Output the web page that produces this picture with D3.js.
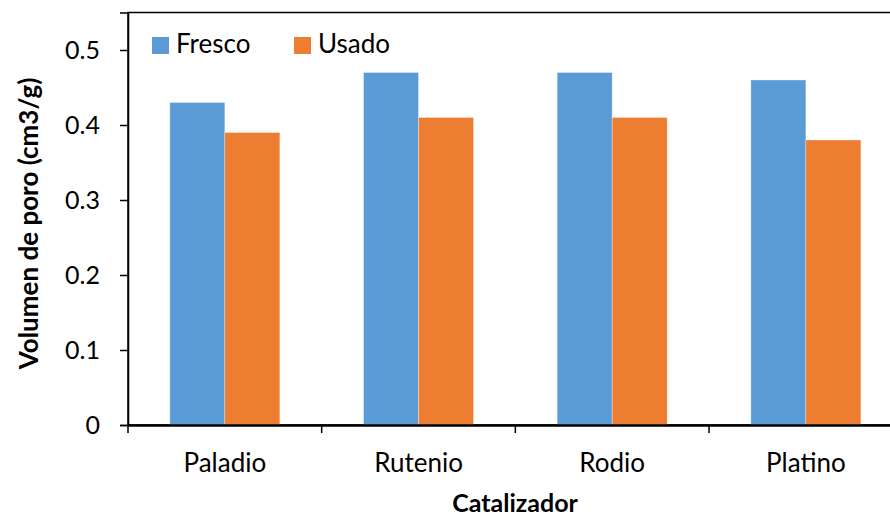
<!DOCTYPE html>
<html>
<head>
<meta charset="utf-8">
<script src="https://cdn.jsdelivr.net/npm/d3@7"></script>
<style>
  body { margin: 0; background: #fff; }
  text { font-family: Lato, "Open Sans", sans-serif; fill: #000; }
</style>
</head>
<body>
<svg id="chart"></svg>
<script>
// Chart data
const categories = ['Paladio', 'Rutenio', 'Rodio', 'Platino'];
const seriesNames = ['Fresco', 'Usado'];
const fresco = [0.43, 0.47, 0.47, 0.46];
const usado = [0.39, 0.41, 0.41, 0.38];
const yTicks = [0, 0.1, 0.2, 0.3, 0.4, 0.5];
const colors = ['#5B9BD5', '#ED7D31'];

const width = 890, height = 518;
const margin = { top: 12.5, left: 128, right: -12.7, bottom: 93 };
const innerW = width - margin.left - margin.right;
const innerH = height - margin.top - margin.bottom;

const svg = d3.select('#chart')
  .attr('width', width)
  .attr('height', height);

const chartArea = svg.append('g')
  .attr('transform', `translate(${margin.left},${margin.top})`);

// Scales
const xScale = d3.scaleBand()
  .domain(categories)
  .range([0, innerW]);

const xSub = d3.scaleBand()
  .domain(seriesNames)
  .range([0, 110])
  .paddingInner(0);

const yScale = d3.scaleLinear()
  .domain([0, 0.55])
  .range([innerH, 0]);

// Frame (top and right border)
chartArea.append('rect')
  .attr('width', innerW)
  .attr('height', innerH)
  .attr('fill', 'none')
  .attr('stroke', '#000')
  .attr('stroke-width', 1.5);

// Bars
const rows = categories.map((c, i) => ({ cat: c, values: [fresco[i], usado[i]] }));
const groups = chartArea.selectAll('.group')
  .data(rows)
  .join('g')
  .attr('class', 'group')
  .attr('transform', d => `translate(${xScale(d.cat) + (xScale.bandwidth() - 110) / 2},0)`);

groups.selectAll('rect')
  .data(d => d.values.map((v, j) => ({ key: seriesNames[j], v, j })))
  .join('rect')
  .attr('x', d => xSub(d.key))
  .attr('width', xSub.bandwidth())
  .attr('y', d => yScale(d.v))
  .attr('height', d => innerH - yScale(d.v))
  .attr('fill', d => colors[d.j])
  .attr('stroke', '#fff')
  .attr('stroke-opacity', 0.4)
  .attr('stroke-width', 0.8);

// Axes
const yAxis = d3.axisLeft(yScale)
  .tickValues(yTicks)
  .tickFormat(d => d === 0 ? '0' : d3.format('.1f')(d))
  .tickSize(8)
  .tickPadding(20);

const yAxisG = chartArea.append('g').call(yAxis);
yAxisG.select('.domain').attr('stroke-width', 1.5);
yAxisG.selectAll('.tick line').attr('stroke-width', 1.5);
yAxisG.selectAll('.tick text')
  .style('font-size', '25px')
  .style('font-family', 'Lato, sans-serif');

const xAxisG = chartArea.append('g')
  .attr('transform', `translate(0,${innerH})`)
  .call(d3.axisBottom(xScale).tickSize(0).tickPadding(29));
xAxisG.select('.domain').attr('stroke-width', 2.5);
xAxisG.selectAll('.tick text')
  .style('font-size', '26px')
  .style('font-family', 'Lato, sans-serif');

// Category separator ticks
chartArea.append('g')
  .selectAll('line')
  .data(d3.range(categories.length + 1))
  .join('line')
  .attr('x1', i => i * xScale.step())
  .attr('x2', i => i * xScale.step())
  .attr('y1', innerH)
  .attr('y2', innerH + 8)
  .attr('stroke', '#000')
  .attr('stroke-width', 1.5);

// Axis titles
svg.append('text')
  .attr('transform', `translate(38,223.5) rotate(-90)`)
  .attr('text-anchor', 'middle')
  .style('font-size', '26px')
  .style('font-weight', 'bold')
  .text('Volumen de poro (cm3/g)');

svg.append('text')
  .attr('x', 515)
  .attr('y', 512)
  .attr('text-anchor', 'middle')
  .style('font-size', '25px')
  .style('font-weight', 'bold')
  .text('Catalizador');

// Legend
const legend = svg.append('g');
const legendX = [152, 294];
seriesNames.forEach((name, i) => {
  legend.append('rect')
    .attr('x', legendX[i])
    .attr('y', 37)
    .attr('width', 17)
    .attr('height', 17)
    .attr('fill', colors[i]);
  legend.append('text')
    .attr('x', legendX[i] + 24)
    .attr('y', 53)
    .style('font-size', '26px')
    .text(name);
});
</script>
</body>
</html>
